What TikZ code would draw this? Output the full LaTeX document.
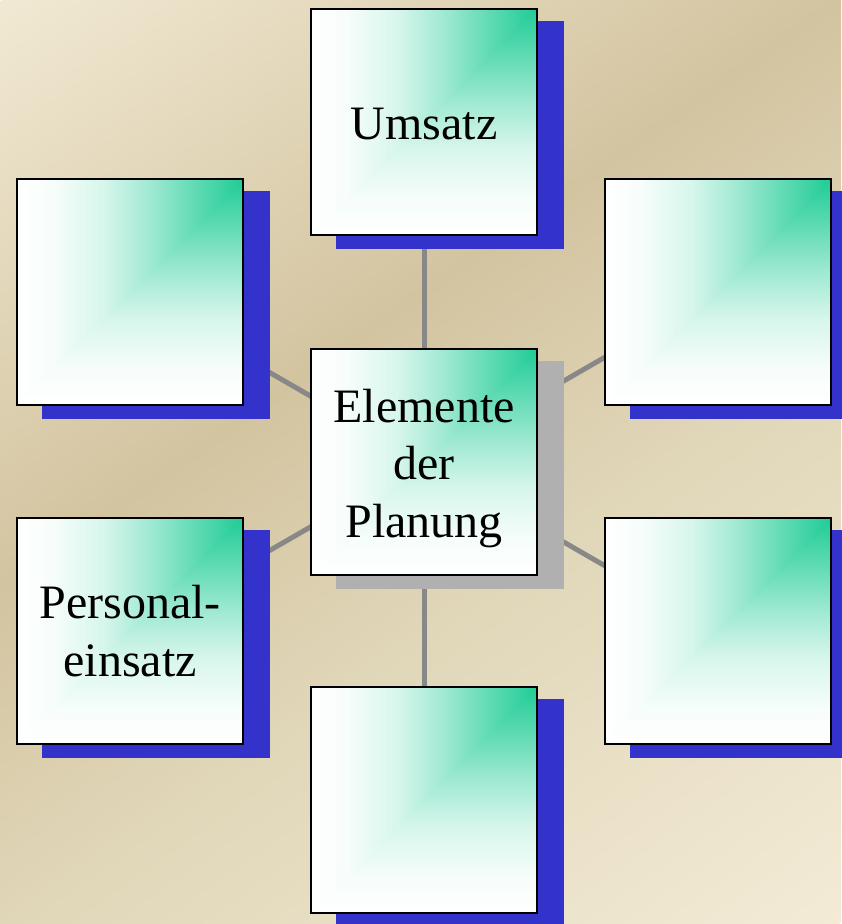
\documentclass[tikz,border=0pt]{standalone}
\usepackage{fontspec}
\setmainfont{Liberation Serif}
\usetikzlibrary{calc}
\definecolor{tgreen}{RGB}{32,204,150}
\definecolor{shblue}{RGB}{51,51,204}
\definecolor{shgrey}{RGB}{176,176,176}
\definecolor{conngrey}{RGB}{136,136,136}
\definecolor{bglight}{RGB}{241,233,211}
\definecolor{bglighttwo}{RGB}{243,235,214}
\definecolor{bgdark}{RGB}{211,196,160}
\definecolor{bgmid}{RGB}{224,214,184}
\pgfdeclarehorizontalshading{bgshade}{100bp}{color(0bp)=(bglight); color(25bp)=(bglight); color(44.4bp)=(bgdark); color(55.6bp)=(bgmid); color(75bp)=(bglighttwo); color(100bp)=(bglighttwo)}
\pgfdeclarehorizontalshading{hgrad}{100bp}{color(0bp)=(white); color(25bp)=(white); color(33bp)=(tgreen!4!white); color(44bp)=(tgreen!18!white); color(54bp)=(tgreen!42!white); color(64bp)=(tgreen!70!white); color(75bp)=(tgreen); color(100bp)=(tgreen)}
\pgfdeclareverticalshading{vgrad}{100bp}{color(0bp)=(white); color(25bp)=(white); color(33bp)=(tgreen!4!white); color(44bp)=(tgreen!18!white); color(54bp)=(tgreen!42!white); color(64bp)=(tgreen!70!white); color(75bp)=(tgreen); color(100bp)=(tgreen)}
\pgfdeclarelayer{bglayer}
\pgfdeclarelayer{lines}
\pgfdeclarelayer{shadows}
\pgfsetlayers{bglayer,lines,shadows,main}
\tikzset{
  gbox/.style={draw=black, line width=2pt, minimum width=226pt, minimum height=226pt, inner sep=0pt,
    path picture={
      \shade[shading=vgrad] (path picture bounding box.south west) rectangle (path picture bounding box.north east);
      \begin{scope}
        \clip (path picture bounding box.north west) -- (path picture bounding box.north east) -- (path picture bounding box.south west) -- cycle;
        \shade[shading=hgrad] (path picture bounding box.south west) rectangle (path picture bounding box.north east);
      \end{scope}
    }},
  shb/.style={fill=shblue},
  shg/.style={fill=shgrey},
  conn/.style={draw=conngrey, line width=5pt},
  txt/.style={font=\fontsize{48}{57.6}\selectfont, align=center, text=black, inner sep=0pt}
}
\begin{document}
\begin{tikzpicture}[x=1pt,y=-1pt]
\useasboundingbox (0,0) rectangle (841,924);
\begin{pgfonlayer}{bglayer}
  \begin{scope}
    \clip (0,0) rectangle (841,924);
    \shade[shading=bgshade, transform canvas={rotate around={-55:(420.5,462)}}] (-198,-188) rectangle (1039,1112);
  \end{scope}
\end{pgfonlayer}

\node[gbox] (u)  at (424,121.5) {};
\node[gbox] (c)  at (424,461.5) {};
\node[gbox] (tl) at (130,292) {};
\node[gbox] (bl) at (130,631) {};
\node[gbox] (tr) at (718,292) {};
\node[gbox] (br) at (718,631) {};
\node[gbox] (b)  at (424,800) {};

\begin{pgfonlayer}{shadows}
  \foreach \n in {u,tl,bl,tr,br,b}{
    \path[shb] ([shift={(26,13)}]\n.north west) rectangle ([shift={(26,13)}]\n.south east);
  }
  \path[shg] ([shift={(26,13)}]c.north west) rectangle ([shift={(26,13)}]c.south east);
\end{pgfonlayer}

\begin{pgfonlayer}{lines}
  \draw[conn] (c.center) -- (u.center);
  \draw[conn] (c.center) -- (b.center);
  \draw[conn] (c.center) -- (tl.center);
  \draw[conn] (c.center) -- (bl.center);
  \draw[conn] (c.center) -- (tr.center);
  \draw[conn] (c.center) -- (br.center);
\end{pgfonlayer}

\node[txt] (ut) at ([yshift=-2.5pt]u.center) {Umsatz};
\node[txt] (ct) at ([yshift=-7pt]c.center) {Elemente\\der\\Planung};
\node[txt] (pt) at (bl.center) {Personal-\\einsatz};
\end{tikzpicture}
\end{document}
